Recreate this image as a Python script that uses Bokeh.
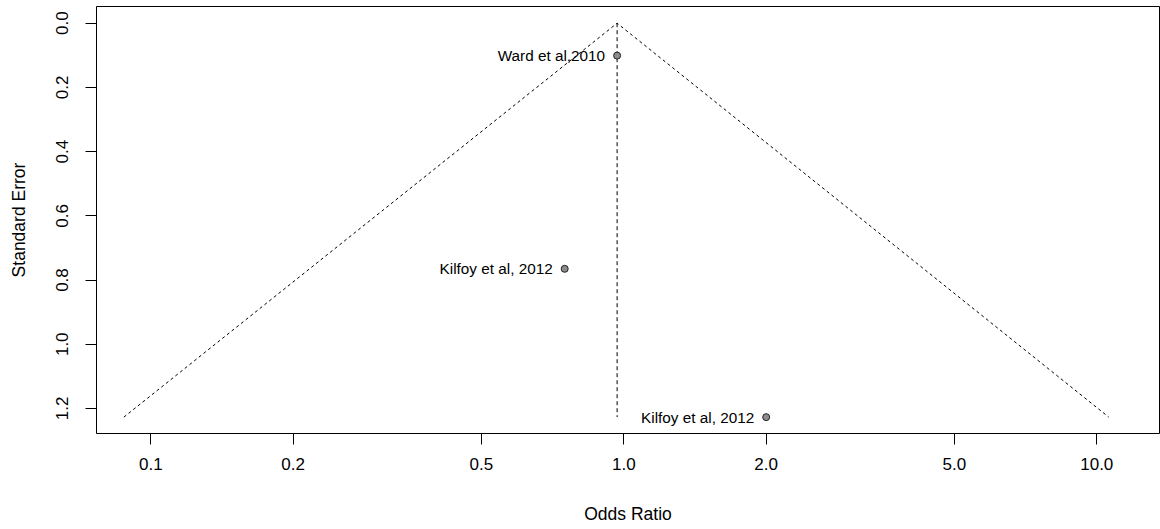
from bokeh.plotting import figure
from bokeh.models import Range1d, FixedTicker
from bokeh.core.properties import value
from bokeh.embed import file_html
from bokeh.resources import INLINE

# ---- data ----
study_labels = ["Ward et al,2010", "Kilfoy et al, 2012", "Kilfoy et al, 2012"]
odds_ratio = [0.968, 0.750, 2.00]
std_error = [0.101, 0.765, 1.227]

# funnel (pseudo-confidence region) vertices and pooled estimate
funnel_or = [0.0877, 0.968, 10.6]
funnel_se = [1.227, 0.0, 1.227]
pooled_or = 0.968
se_max = 1.227

x_ticks = [0.1, 0.2, 0.5, 1.0, 2.0, 5.0, 10.0]
x_tick_labels = ["0.1", "0.2", "0.5", "1.0", "2.0", "5.0", "10.0"]
y_ticks = [0.0, 0.2, 0.4, 0.6, 0.8, 1.0, 1.2]
y_tick_labels = ["0.0", "0.2", "0.4", "0.6", "0.8", "1.0", "1.2"]

FONT = "Liberation Sans"

p = figure(
    width=1160, height=529,
    x_axis_type="log",
    x_range=Range1d(0.07677, 13.57),
    y_range=Range1d(1.278, -0.052),
    output_backend="svg", toolbar_location=None,
    min_border_left=96, min_border_right=1, min_border_top=6, min_border_bottom=96,
    background_fill_color="white", border_fill_color="white",
)
p.outline_line_color = "black"
p.outline_line_width = 1
p.grid.visible = False

p.xaxis.ticker = FixedTicker(ticks=x_ticks)
p.xaxis.major_label_overrides = dict(zip(x_ticks, x_tick_labels))
p.yaxis.ticker = FixedTicker(ticks=y_ticks)
p.yaxis.major_label_overrides = dict(zip(y_ticks, y_tick_labels))
p.yaxis.major_label_orientation = "parallel"

p.xaxis.axis_label = "Odds Ratio"
p.yaxis.axis_label = "Standard Error"

for ax in (p.xaxis[0], p.yaxis[0]):
    ax.axis_line_color = None
    ax.major_tick_out = 11
    ax.major_tick_in = 0
    ax.minor_tick_out = 0
    ax.minor_tick_in = 0
    ax.major_tick_line_color = "black"
    ax.major_tick_line_width = 1
    ax.major_label_text_font = FONT
    ax.major_label_text_font_size = "17px"
    ax.major_label_text_color = "black"
    ax.axis_label_text_font = FONT
    ax.axis_label_text_font_size = "17.5px"
    ax.axis_label_text_font_style = "normal"
    ax.axis_label_text_color = "black"

p.xaxis.major_label_standoff = 13
p.xaxis.axis_label_standoff = 31
p.yaxis.major_label_standoff = 17
p.yaxis.axis_label_standoff = 25

# funnel lines
p.line(funnel_or, funnel_se, line_color="black", line_width=1, line_dash="3 3")
# pooled estimate line
p.segment(x0=[pooled_or], y0=[0.0], x1=[pooled_or], y1=[se_max],
          line_color="black", line_width=1, line_dash="4 3")

# study points
p.scatter(odds_ratio, std_error, size=7, fill_color="#8c8c8c",
          line_color="#222222", line_width=1)

# study labels
p.text(x=odds_ratio, y=std_error, text=study_labels, x_offset=-12,
       text_align="right", text_baseline="middle",
       text_font=value(FONT), text_font_size="15.3px", text_color="black")

open("out.html", "w").write(file_html(p, INLINE))
